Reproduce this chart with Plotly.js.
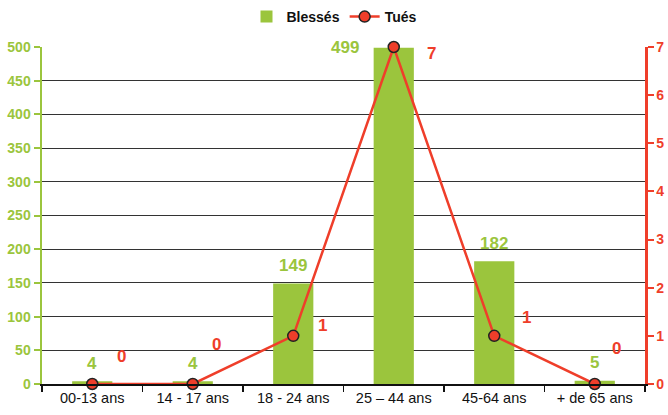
<!DOCTYPE html>
<html><head><meta charset="utf-8">
<script src="https://cdn.plot.ly/plotly-3.0.1.min.js"></script>
<style>html,body{margin:0;padding:0;background:#fff}#c{width:668px;height:415px}</style>
</head><body><div id="c"></div>
<script>
const categories = ["00-13 ans", "14 - 17 ans", "18 - 24 ans", "25 – 44 ans", "45-64 ans", "+ de 65 ans"];
const blesses = [4, 4, 149, 499, 182, 5];
const tues = [0, 0, 1, 7, 1, 0];
const leftTicks = [0, 50, 100, 150, 200, 250, 300, 350, 400, 450, 500];
const rightTicks = [0, 1, 2, 3, 4, 5, 6, 7];

const GREEN = '#9bc53d', RED = '#ef3e2a';
const FONT = 'Liberation Sans, Arial, sans-serif';

// label placement styling (pixel shifts)
const barLblStyle = blesses.map((v) => v >= 450
  ? {xshift: -33, yshift: 0, xanchor: 'right'}
  : {xshift: 0, yshift: 18, xanchor: 'center'});
const lineLblShift = [[29, 28], [24, 40], [29, 10], [38, -6], [32, 18], [22, 36]];

const annotations = [];
categories.forEach((c, i) => {
  const s = barLblStyle[i];
  annotations.push({x: c, y: blesses[i], xref: 'x', yref: 'y', text: String(blesses[i]),
    showarrow: false, xanchor: s.xanchor, yanchor: 'middle', xshift: s.xshift, yshift: s.yshift,
    font: {family: FONT, size: 17, color: GREEN, weight: 'bold'}});
  annotations.push({x: c, y: tues[i], xref: 'x', yref: 'y2', text: String(tues[i]),
    showarrow: false, xanchor: 'center', yanchor: 'middle',
    xshift: lineLblShift[i][0], yshift: lineLblShift[i][1],
    font: {family: FONT, size: 17, color: RED, weight: 'bold'}});
});

const data = [
  {type: 'bar', x: categories, y: blesses, name: 'Blessés', marker: {color: GREEN},
   width: 0.4, yaxis: 'y'},
  {type: 'scatter', mode: 'lines+markers', x: categories, y: tues, name: 'Tués', yaxis: 'y2',
   line: {color: RED, width: 2.5},
   marker: {color: RED, size: 11, line: {color: '#222', width: 1.5}}, cliponaxis: false}
];

const layout = {
  width: 668, height: 415,
  margin: {l: 42, r: 23, t: 47, b: 31},
  paper_bgcolor: '#fff', plot_bgcolor: '#fff',
  font: {family: FONT},
  showlegend: true,
  legend: {orientation: 'h', x: 0.5, xanchor: 'center', xref: 'container',
    y: 1 - 17 / 415, yanchor: 'middle', yref: 'container',
    font: {family: FONT, size: 14, color: '#111', weight: 'bold'}, itemwidth: 30, tracegroupgap: 0},
  xaxis: {type: 'category', categoryarray: categories, tickson: 'boundaries', ticks: 'outside',
    ticklen: 6, tickcolor: '#111', tickwidth: 1.5, showline: true, linecolor: '#111', linewidth: 2,
    showgrid: false, tickfont: {family: FONT, size: 14.5, color: '#111'}, zeroline: false},
  yaxis: {range: [0, 500], tickvals: leftTicks, ticktext: leftTicks.map(String), ticks: 'outside',
    ticklen: 6, tickcolor: GREEN, tickwidth: 2, showline: true, linecolor: GREEN, linewidth: 2.5,
    showgrid: true, gridcolor: '#333', gridwidth: 1, zeroline: false,
    tickfont: {family: FONT, size: 14, color: GREEN, weight: 'bold'}},
  yaxis2: {range: [0, 7], overlaying: 'y', side: 'right', tickvals: rightTicks,
    ticktext: rightTicks.map(String), ticks: 'outside', ticklen: 6, tickcolor: RED, tickwidth: 2,
    showline: true, linecolor: RED, linewidth: 2.5, showgrid: false, zeroline: false,
    tickfont: {family: FONT, size: 14, color: RED, weight: 'bold'}},
  annotations: annotations
};

Plotly.newPlot('c', data, layout, {displayModeBar: false, staticPlot: true});
</script></body></html>
